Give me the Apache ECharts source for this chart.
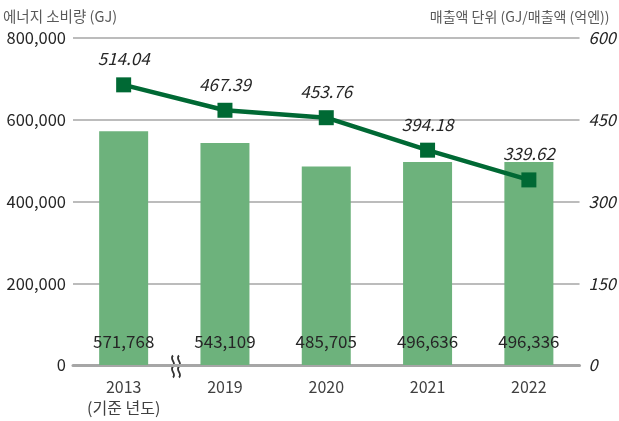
<!DOCTYPE html>
<html><head><meta charset="utf-8">
<script src="https://cdn.jsdelivr.net/npm/echarts@6/dist/echarts.min.js"></script>
<style>html,body{margin:0;padding:0;background:#fff}#c{width:619px;height:421px}</style>
</head><body><div id="c"></div>
<script>
const categories = ['2013\n(기준 년도)', '2019', '2020', '2021', '2022'];
const energyValues = [571768, 543109, 485705, 496636, 496336];
const intensityValues = [514.04, 467.39, 453.76, 394.18, 339.62];
const leftTicks = [0, 200000, 400000, 600000, 800000];
const rightTicks = [0, 150, 300, 450, 600];

const font = '"Noto Sans CJK KR", "Noto Sans", sans-serif';
function wave(x0) {
  const st = { stroke: '#333', lineWidth: 1.8, fill: null };
  return [
    { type: 'bezierCurve', shape: { x1: x0, y1: 0, cpx1: x0 - 4, cpy1: 4, cpx2: x0 + 4, cpy2: 7, x2: x0, y2: 11 }, style: st },
    { type: 'bezierCurve', shape: { x1: x0, y1: 11, cpx1: x0 - 4, cpy1: 15, cpx2: x0 + 4, cpy2: 18, x2: x0, y2: 22 }, style: st }
  ];
}
const chart = echarts.init(document.getElementById('c'));
chart.setOption({
  animation: false,
  textStyle: { fontFamily: font },
  grid: { left: 73, right: 35, top: 38, bottom: 56 },
  xAxis: {
    type: 'category', data: categories,
    axisLine: { lineStyle: { color: '#a6a6a6', width: 3 } },
    axisTick: { show: false },
    axisLabel: { color: '#404040', fontSize: 16, lineHeight: 21, margin: 11, fontFamily: font }
  },
  yAxis: [{
    type: 'value', min: 0, max: 800000, interval: 200000,
    name: '에너지 소비량 (GJ)', nameLocation: 'end', nameGap: 14,
    nameTextStyle: { color: '#595959', fontSize: 14.5, align: 'left', padding: [0, 0, 0, -70] },
    axisLabel: { color: '#262626', fontSize: 16.5, margin: 7,
      formatter: v => v.toLocaleString('en-US') },
    splitLine: { lineStyle: { color: '#a6a6a6', width: 1.5 } },
    axisLine: { show: false }, axisTick: { show: false }
  }, {
    type: 'value', min: 0, max: 600, interval: 150,
    name: '매출액 단위 (GJ/매출액 (억엔))', nameLocation: 'end', nameGap: 14,
    nameTextStyle: { color: '#595959', fontSize: 14, align: 'right', padding: [0, -30, 0, 0] },
    axisLabel: { color: '#262626', fontSize: 16.5, fontStyle: 'italic', margin: 9 },
    splitLine: { show: false },
    axisLine: { show: false }, axisTick: { show: false }
  }],
  series: [{
    type: 'bar', data: energyValues, barWidth: 49, yAxisIndex: 0,
    itemStyle: { color: '#6db27c' },
    label: { show: true, position: 'insideBottom', distance: 15, color: '#262626', fontSize: 17,
      formatter: p => p.value.toLocaleString('en-US') }
  }, {
    type: 'line', data: intensityValues, yAxisIndex: 1,
    symbol: 'rect', symbolSize: 15,
    lineStyle: { color: '#006934', width: 4.5 },
    itemStyle: { color: '#006934' },
    label: { show: true, position: 'top', distance: 10, color: '#262626', fontSize: 17, fontStyle: 'italic',
      formatter: p => p.value.toFixed(2) }
  }],
  graphic: [{
    type: 'group', left: 168, top: 353,
    children: [
      { type: 'rect', shape: { x: 0, y: 7, width: 16, height: 8 }, style: { fill: '#fff' } }
    ].concat(wave(5), wave(11))
  }]
});
</script></body></html>
